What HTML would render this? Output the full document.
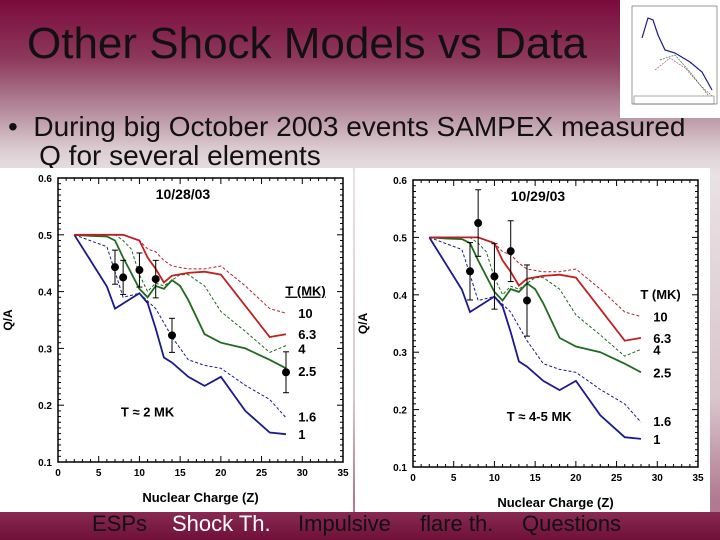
<!DOCTYPE html>
<html><head><meta charset="utf-8"><style>
html,body{margin:0;padding:0}
body{width:720px;height:540px;overflow:hidden;position:relative;font-family:"Liberation Sans",sans-serif;
background:linear-gradient(to bottom,#7a0a3c 0px,#8e3a5c 60px,#b58b9c 110px,#dccdd2 150px,#e9e2e4 175px,#d9c5cc 400px,#b07a90 500px);}
.title{position:absolute;left:27px;top:19px;font-size:44px;color:#111;white-space:nowrap}
.bullet{position:absolute;left:8px;top:112px;font-size:28px;line-height:29px;color:#111;white-space:nowrap}
.foot{position:absolute;left:0;top:512px;width:720px;height:28px;background:linear-gradient(#8a2a52,#6e1038);}
.foot span{position:absolute;top:-1px;font-size:22px;color:#111}
</style></head><body>
<div class="title">Other Shock Models vs Data</div>
<div class="bullet">•&nbsp; During big October 2003 events SAMPEX measured<br>&nbsp;&nbsp;&nbsp; Q for several elements</div>
<svg style="position:absolute;left:620px;top:0" width="100" height="118">
<rect width="100" height="118" fill="#fff"/>
<rect x="12" y="6" width="85" height="98" fill="none" stroke="#555" stroke-width="0.6"/>
<path d="M22 38 L28 18 L33 20 L38 35 L45 50 L55 53 L70 62 L82 72 L92 90" fill="none" stroke="#1a1a8a" stroke-width="1.2"/>
<path d="M35 70 L50 58 L65 68 L80 85 L92 96" fill="none" stroke="#c04080" stroke-width="0.7" stroke-dasharray="2,1"/>
<path d="M40 60 L55 55 L70 72 L88 95" fill="none" stroke="#208020" stroke-width="0.7" stroke-dasharray="2,1"/>
<rect x="14" y="96" width="80" height="8" fill="none" stroke="#555" stroke-width="0.5"/>
</svg>
<svg id="chart" style="position:absolute;left:0;top:0" width="720" height="540"></svg>
<div class="foot">
<span style="left:92px">ESPs</span>
<span style="left:172px;color:#fff">Shock Th.</span>
<span style="left:298px">Impulsive</span>
<span style="left:420px">flare th.</span>
<span style="left:522px">Questions</span>
</div>
<script>
const xTicks=[0,5,10,15,20,25,30,35];
const yTicks=[0.1,0.2,0.3,0.4,0.5,0.6];
const curveLabels=["1","1.6","2.5","4","6.3","10"];
const z1=[2,6,7,10,11,12,13,14,16,18,20,23,26,28];
const q1=[0.5,0.409,0.37,0.397,0.38,0.335,0.284,0.275,0.25,0.234,0.25,0.19,0.152,0.149];
const z16=[2,6,7,8,10,12,14,16,18,20,23,26,28];
const q16=[0.5,0.479,0.435,0.39,0.397,0.37,0.32,0.28,0.27,0.265,0.235,0.21,0.178];
const z25=[2,4,6,7,8,10,11,12,13,14,15,16,18,20,23,26,28];
const q25=[0.5,0.498,0.497,0.49,0.46,0.405,0.39,0.41,0.405,0.42,0.41,0.385,0.325,0.31,0.3,0.28,0.265];
const z4=[2,7,8,9,10,11,12,13,14,15,16,18,20,23,26,28];
const q4=[0.5,0.5,0.49,0.475,0.43,0.4,0.415,0.41,0.42,0.43,0.43,0.41,0.365,0.33,0.293,0.305];
const z63=[2,8,10,11,12,13,14,16,18,20,23,26,28];
const q63=[0.5,0.5,0.49,0.46,0.44,0.416,0.428,0.433,0.435,0.43,0.375,0.32,0.325];
const z10=[2,8,10,11,12,13,14,16,18,20,23,26,28];
const q10=[0.5,0.5,0.49,0.475,0.47,0.455,0.445,0.44,0.44,0.445,0.41,0.37,0.362];
const dataZ_a=[7,8,10,12,14,28];
const dataQ_a=[0.443,0.425,0.438,0.422,0.323,0.258];
const dataE_a=[0.03,0.03,0.03,0.033,0.03,0.036];
const dataZ_b=[7,8,10,12,14];
const dataQ_b=[0.441,0.525,0.432,0.476,0.39];
const dataE_b=[0.05,0.058,0.057,0.053,0.062];

const NS="http://www.w3.org/2000/svg";
const svg=document.getElementById('chart');
function el(t,a,p){const e=document.createElementNS(NS,t);for(const k in a)e.setAttribute(k,a[k]);(p||svg).appendChild(e);return e;}
function txt(s,x,y,a,p){const e=el('text',Object.assign({x:x,y:y,'font-family':'Liberation Sans, sans-serif','font-weight':'bold'},a),p);e.textContent=s;return e;}

function drawChart(name,bx,by,bw,bh,x0,x35,y6,y1,date,tlabel,dz,dq,de,labPos,underline){
  const g=el('g',{});
  
  
  const bg=el('rect',{x:bx,y:by,width:bw,height:bh,fill:'#fff'},g);
  
  
  const X=z=>x0+(x35-x0)*z/35, Y=q=>y1-(y1-y6)*(q-0.1)/0.5;
  const fr=el('rect',{x:x0,y:y6,width:x35-x0,height:y1-y6,fill:'none',stroke:'#000','stroke-width':1.5},g);
  
  
  for(let z=0;z<=35;z++){const L=z%5==0?6:3;
    el('line',{x1:X(z),x2:X(z),y1:y1,y2:y1-L,stroke:'#000','stroke-width':1},g);
    el('line',{x1:X(z),x2:X(z),y1:y6,y2:y6+L,stroke:'#000','stroke-width':1},g);}
  for(let i=0;i<=50;i++){const q=0.1+i*0.01;const L=i%10==0?6:3;
    el('line',{x1:x0,x2:x0+L,y1:Y(q),y2:Y(q),stroke:'#000','stroke-width':1},g);
    el('line',{x1:x35,x2:x35-L,y1:Y(q),y2:Y(q),stroke:'#000','stroke-width':1},g);}
  xTicks.forEach(z=>{const t=txt(String(z),X(z),y1+14,{'font-size':10,'text-anchor':'middle'},g);
    });
  yTicks.forEach(q=>{const t=txt(q.toFixed(1),x0-6,Y(q)+4,{'font-size':10,'text-anchor':'end'},g);
    });
  const xt=txt('Nuclear Charge (Z)',X(17.5),y1+40,{'font-size':13,'text-anchor':'middle'},g);
  
  const yt=txt('Q/A',0,0,{'font-size':12,'text-anchor':'middle',transform:`translate(${x0-46},${Y(0.35)}) rotate(-90)`},g);
  
  const dt=txt(date,X(12),y6+21,{'font-size':14},g);
  
  const tl=txt(tlabel,X(tlabel.length>8?15.5:11),Y(0.18),{'font-size':13,'text-anchor':'middle'},g);
  
  const curves=[[z1,q1,'#1a1a8c',1.8,null],[z16,q16,'#1a1a8c',1,'3,2'],[z25,q25,'#206a20',1.8,null],[z4,q4,'#206a20',1,'3,2'],[z63,q63,'#c02020',1.8,null],[z10,q10,'#b02030',1,'3,2']];
  curves.forEach((c,i)=>{
    const d=c[0].map((z,j)=>(j?'L':'M')+X(z).toFixed(1)+' '+Y(c[1][j]).toFixed(1)).join(' ');
    const a={d:d,fill:'none',stroke:c[2],'stroke-width':c[3]};if(c[4])a['stroke-dasharray']=c[4];
    const p=el('path',a,g);
    
    
    const lt=txt(curveLabels[i],X(29.5),Y(labPos[i])+5,{'font-size':13},g);
    
  });
  const ta={'font-size':13,'text-anchor':'middle'};if(underline)ta['text-decoration']='underline';
  const th=txt('T (MK)',X(30.4),Y(0.4)+4,ta,g);
  
  dz.forEach((z,i)=>{
    const e=el('line',{x1:X(z),x2:X(z),y1:Y(dq[i]-de[i]),y2:Y(dq[i]+de[i]),stroke:'#000','stroke-width':1},g);
    
    [dq[i]-de[i],dq[i]+de[i]].forEach(q=>el('line',{x1:X(z)-3,x2:X(z)+3,y1:Y(q),y2:Y(q),stroke:'#000'},g));
    const c=el('circle',{cx:X(z),cy:Y(dq[i]),r:4,fill:'#000'},g);
    
  });
}
drawChart('chart-oct28',0,168,353,344,58,343,178,462,'10/28/03','T ≈ 2 MK',dataZ_a,dataQ_a,dataE_a,[0.149,0.18,0.26,0.3,0.325,0.362],true);
drawChart('chart-oct29',355,168,355,344,413,698,180,467,'10/29/03','T ≈ 4-5 MK',dataZ_b,dataQ_b,dataE_b,[0.149,0.18,0.265,0.305,0.325,0.362],false);
</script>
</body></html>
